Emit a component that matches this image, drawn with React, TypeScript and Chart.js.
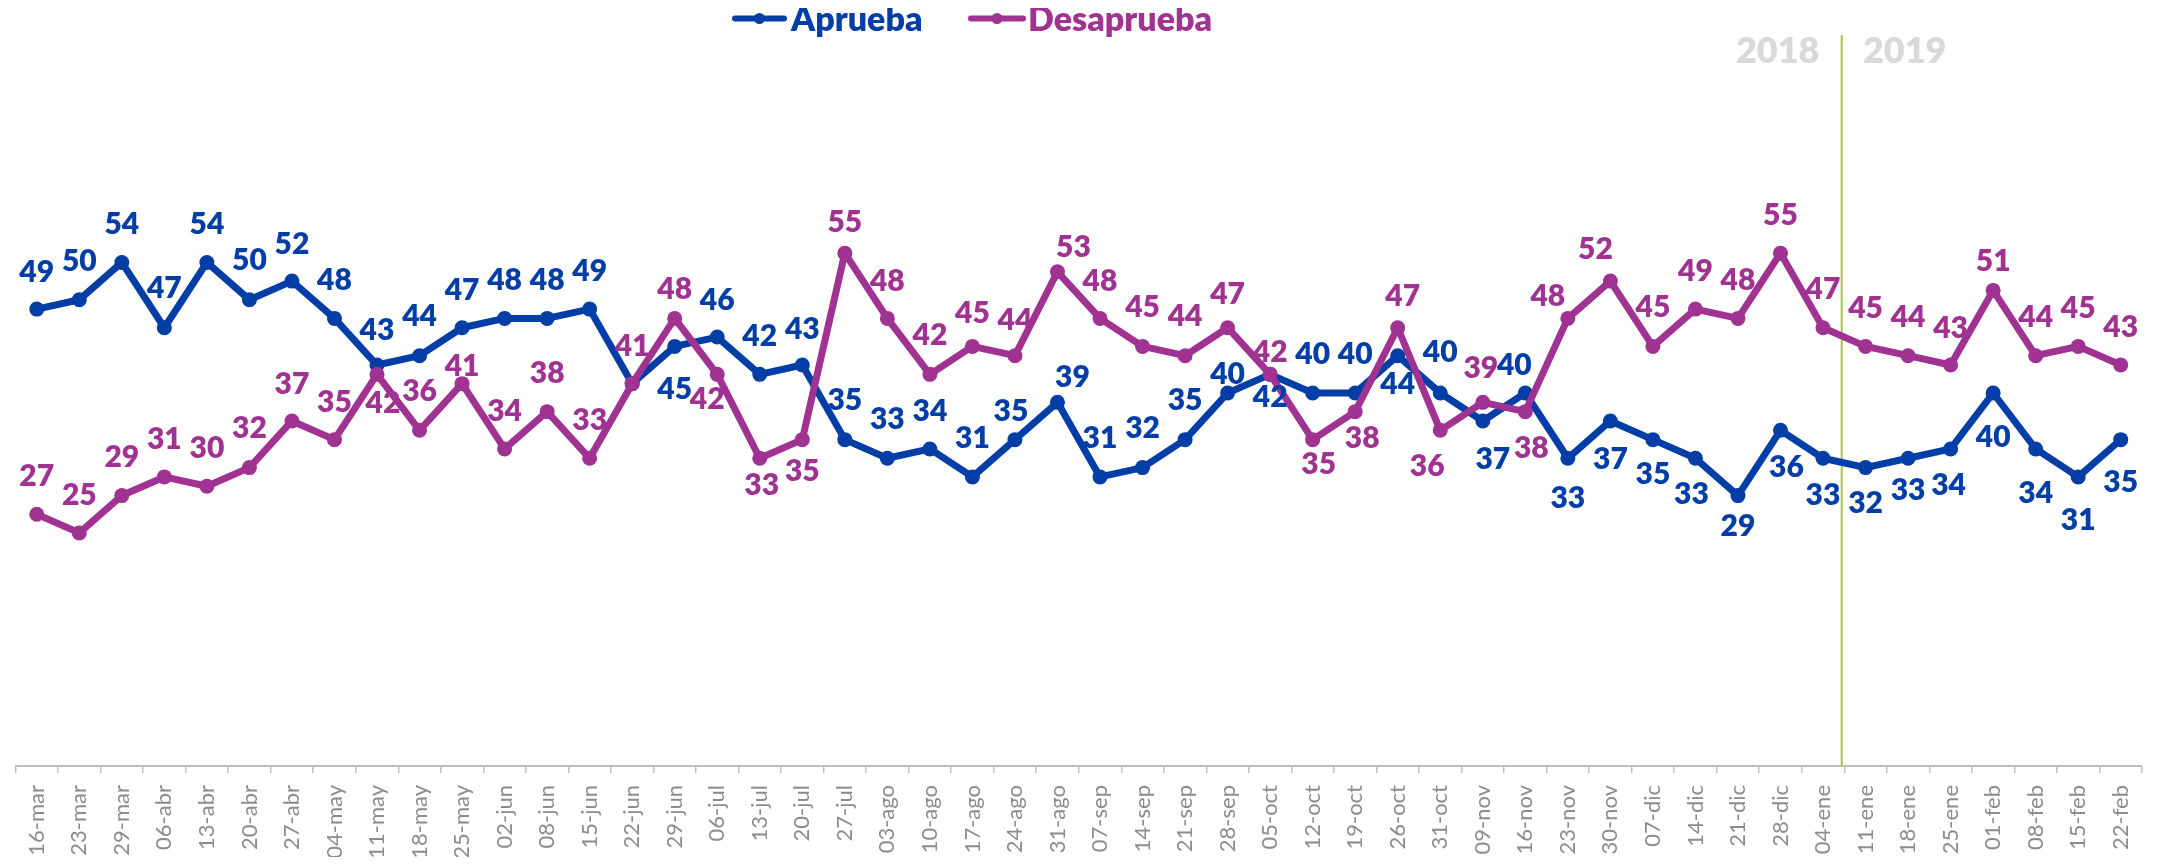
import { useEffect, useRef } from "react";
import { Chart, registerables } from "chart.js";

Chart.register(...registerables);

const categories = [
  "16-mar", "23-mar", "29-mar", "06-abr", "13-abr", "20-abr", "27-abr", "04-may", "11-may", "18-may",
  "25-may", "02-jun", "08-jun", "15-jun", "22-jun", "29-jun", "06-jul", "13-jul", "20-jul", "27-jul",
  "03-ago", "10-ago", "17-ago", "24-ago", "31-ago", "07-sep", "14-sep", "21-sep", "28-sep", "05-oct",
  "12-oct", "19-oct", "26-oct", "31-oct", "09-nov", "16-nov", "23-nov", "30-nov", "07-dic", "14-dic",
  "21-dic", "28-dic", "04-ene", "11-ene", "18-ene", "25-ene", "01-feb", "08-feb", "15-feb", "22-feb",
];

const aprueba = [
  49, 50, 54, 47, 54, 50, 52, 48, 43, 44,
  47, 48, 48, 49, 41, 45, 46, 42, 43, 35,
  33, 34, 31, 35, 39, 31, 32, 35, 40, 42,
  40, 40, 44, 40, 37, 40, 33, 37, 35, 33,
  29, 36, 33, 32, 33, 34, 40, 34, 31, 35,
];

const desaprueba = [
  27, 25, 29, 31, 30, 32, 37, 35, 42, 36,
  41, 34, 38, 33, 41, 48, 42, 33, 35, 55,
  48, 42, 45, 44, 53, 48, 45, 44, 47, 42,
  35, 38, 47, 36, 39, 38, 48, 52, 45, 49,
  48, 55, 47, 45, 44, 43, 51, 44, 45, 43,
];

const seriesNames = ["Aprueba", "Desaprueba"];
const yearLabels = ["2018", "2019"];
const yearBreakIndex = 42; // between 28-dic and 04-ene (drawn just after 04-ene)

// data-label placement relative to each point [dx, dy] (label centre), null = no label
const apruebaLabelOffsets: ([number, number] | null)[] = [
  [0, -38], [0, -39], [0, -39], [0, -40], [0, -39], [0, -40], [0, -38], [0, -39], [0, -36], [0, -40],
  [0, -38], [0, -39], [0, -39], [0, -39], null, [0, 42], [0, -38], [0, -39], [0, -37], [0, -40],
  [0, -40], [0, -39], [0, -40], [-4, -29], [15, -26], [0, -40], [0, -40], [0, -40], [0, -20], [0, 22],
  [0, -40], [0, -40], [0, 28], [0, -42], [10, 37], [-11, -29], [0, 39], [0, 37], [0, 34], [-4, 35],
  [0, 30], [6, 36], [0, 36], [0, 35], [0, 31], [-2, 35], [0, 43], [0, 43], [0, 42], [0, 42],
];

const desapruebaLabelOffsets: ([number, number] | null)[] = [
  [0, -39], [0, -39], [0, -39], [0, -39], [0, -39], [0, -40], [0, -38], [0, -38], [6, 28], [0, -40],
  [0, -18], [0, -39], [0, -39], [0, -39], [0, -38], [0, -30], [-10, 24], [2, 26], [0, 31], [0, -32],
  [0, -38], [0, -40], [0, -34], [0, -36], [16, -26], [0, -38], [0, -40], [0, -40], [0, -34], [0, -23],
  [6, 24], [7, 26], [5, -32], [-13, 35], [-2, -35], [6, 36], [-20, -23], [-15, -33], [0, -40], [0, -39],
  [0, -39], [0, -39], [0, -39], [0, -39], [0, -39], [0, -38], [0, -30], [0, -39], [0, -39], [0, -39],
];

const BLUE = "#033ea6";
const PURPLE = "#a03291";
const GREEN = "#a5c73c";
const FONT = "Lato, 'Open Sans', 'Liberation Sans', sans-serif";

const overlayPlugin = {
  id: "overlay",
  beforeDatasetsDraw(chart: any) {
    const ctx = chart.ctx;
    const xs = chart.scales.x;
    const area = chart.chartArea;
    const step = xs.getPixelForValue(1) - xs.getPixelForValue(0);
    const lx = xs.getPixelForValue(yearBreakIndex) + 0.44 * step;
    ctx.save();
    ctx.strokeStyle = GREEN;
    ctx.lineWidth = 2;
    ctx.beginPath();
    ctx.moveTo(lx, 27);
    ctx.lineTo(lx, area.bottom);
    ctx.stroke();
    ctx.font = `800 36px ${FONT}`;
    ctx.fillStyle = "#d9d9d9";
    ctx.textAlign = "center";
    ctx.textBaseline = "alphabetic";
    ctx.fillText(yearLabels[0], lx - 64, 42 + 0.358 * 36);
    ctx.fillText(yearLabels[1], lx + 63, 42 + 0.358 * 36);
    ctx.restore();
  },
  afterDatasetsDraw(chart: any) {
    const ctx = chart.ctx;
    ctx.save();
    ctx.font = `800 30px ${FONT}`;
    ctx.textAlign = "center";
    ctx.textBaseline = "alphabetic";
    chart.data.datasets.forEach((ds: any, di: number) => {
      const meta = chart.getDatasetMeta(di);
      const offs = di === 0 ? apruebaLabelOffsets : desapruebaLabelOffsets;
      ctx.fillStyle = ds.borderColor;
      meta.data.forEach((pt: any, i: number) => {
        const o = offs[i];
        if (!o) return;
        ctx.fillText(String(ds.data[i]), pt.x + o[0], pt.y + o[1] + 0.358 * 30);
      });
    });

    // legend
    const items = [
      { x0: 724, x1: 779, tx: 783, color: BLUE, text: seriesNames[0] },
      { x0: 960, x1: 1018, tx: 1020, color: PURPLE, text: seriesNames[1] },
    ];
    const ly = 10.5;
    ctx.font = `800 34px ${FONT}`;
    ctx.textAlign = "left";
    items.forEach((it) => {
      ctx.strokeStyle = it.color;
      ctx.fillStyle = it.color;
      ctx.lineWidth = 6;
      ctx.lineCap = "round";
      ctx.beginPath();
      ctx.moveTo(it.x0 + 3, ly);
      ctx.lineTo(it.x1 - 3, ly);
      ctx.stroke();
      ctx.beginPath();
      ctx.arc((it.x0 + it.x1) / 2, ly, 5.5, 0, Math.PI * 2);
      ctx.fill();
      ctx.fillText(it.text, it.tx, ly + 0.358 * 34);
    });
    ctx.restore();
  },
};

export default function App() {
  const ref = useRef<HTMLCanvasElement | null>(null);

  useEffect(() => {
    if (!ref.current) return;
    const chart = new Chart(ref.current, {
      type: "line",
      data: {
        labels: categories,
        datasets: [
          {
            label: seriesNames[0],
            data: aprueba,
            borderColor: BLUE,
            backgroundColor: BLUE,
            pointBackgroundColor: BLUE,
            pointBorderColor: BLUE,
            borderWidth: 7,
            pointRadius: 7.5,
            pointBorderWidth: 0,
            borderJoinStyle: "round",
            borderCapStyle: "round",
            tension: 0,
            order: 1,
          },
          {
            label: seriesNames[1],
            data: desaprueba,
            borderColor: PURPLE,
            backgroundColor: PURPLE,
            pointBackgroundColor: PURPLE,
            pointBorderColor: PURPLE,
            borderWidth: 7,
            pointRadius: 7.5,
            pointBorderWidth: 0,
            borderJoinStyle: "round",
            borderCapStyle: "round",
            tension: 0,
            order: 0,
          },
        ],
      } as any,
      options: {
        responsive: false,
        animation: false,
        events: [],
        layout: { padding: { left: 5, right: 20, top: 12, bottom: 0 } },
        plugins: {
          legend: { display: false },
          tooltip: { enabled: false },
        },
        scales: {
          x: {
            type: "category",
            offset: true,
            grid: {
              offset: true,
              drawOnChartArea: false,
              drawTicks: true,
              tickLength: 7,
              color: "#bfbfbf",
              lineWidth: 1.5,
            },
            border: { display: true, color: "#bfbfbf", width: 2 },
            ticks: {
              autoSkip: false,
              maxRotation: 90,
              minRotation: 90,
              padding: 12,
              color: "#8c8c8c",
              font: { family: FONT, size: 22 },
            },
            afterFit: (s: any) => {
              s.height = 91;
            },
          },
          y: { display: false, min: 0, max: 80 },
        },
      } as any,
      plugins: [overlayPlugin],
    });
    return () => chart.destroy();
  }, []);

  return <canvas ref={ref} width={2154} height={849} style={{ display: "block" }} />;
}
